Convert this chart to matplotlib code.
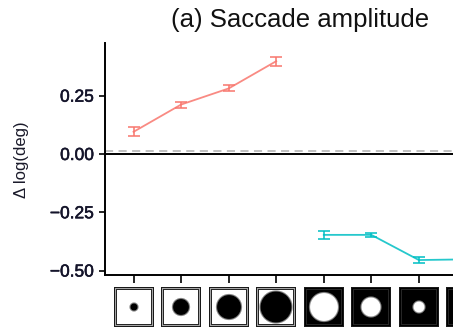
import numpy as np
import matplotlib
matplotlib.use("Agg")
import matplotlib.pyplot as plt
import matplotlib.patheffects as pe
from matplotlib.offsetbox import OffsetImage, AnnotationBbox

plt.rcParams['font.family'] = ['Liberation Sans', 'DejaVu Sans']

# ---- data ----
conditions = [1, 2, 3, 4, 5, 6, 7, 8]
red_x = [1, 2, 3, 4]
red_y = [0.095, 0.212, 0.281, 0.398]
red_err = [0.020, 0.013, 0.013, 0.020]
cyan_x = [5, 6, 7, 8]
cyan_y = [-0.347, -0.347, -0.455, -0.452]
cyan_err = [0.016, 0.010, 0.013, 0.012]
yticks = [-0.50, -0.25, 0.00, 0.25]
ytick_labels = ["\u22120.50", "\u22120.25", "0.00", "0.25"]
ref_dashed = 0.014
# icon settings: disc diameter (px in a 39-px box) and polarity
disc_diam = [8, 17, 25, 32, 29, 20, 12, 8]
disc_black = [True, True, True, True, False, False, False, False]

W, H = 453, 332
dpi = 100
fig = plt.figure(figsize=(W / dpi, H / dpi), dpi=dpi)
ax = fig.add_axes([105 / W, (H - 274.5) / H, 390 / W, (274.5 - 43) / H])

red = '#F8766D'
cyan = '#00BFC4'
ax.axhline(0, color='black', lw=1.4, zorder=1)
ax.axhline(ref_dashed, color='#BBBBBB', lw=1.3, ls=(0, (4.5, 3)), zorder=1)

ax.errorbar(red_x, red_y, yerr=red_err, color=red, lw=1.3, elinewidth=1.3,
            capsize=4, capthick=1.3, alpha=0.85, zorder=3)
ax.errorbar(cyan_x, cyan_y, yerr=cyan_err, color=cyan, lw=1.3, elinewidth=1.3,
            capsize=4, capthick=1.3, alpha=0.85, zorder=3)

ax.set_xlim(0.4, 8.6)
ax.set_ylim(-0.517, 0.476)
ax.set_yticks(yticks)
ax.set_yticklabels(ytick_labels)
ax.set_xticks(conditions)
ax.set_xticklabels([])
for s in ['top', 'right']:
    ax.spines[s].set_visible(False)
for s in ['left', 'bottom']:
    ax.spines[s].set_linewidth(1.4)
ax.tick_params(axis='y', length=4.5, width=1.2, pad=3.5, labelsize=12.5, labelcolor='#14142a')
ax.tick_params(axis='x', length=5.5, width=1.2)
for lab in ax.get_yticklabels():
    lab.set_path_effects([pe.withStroke(linewidth=0.4, foreground='#14142a')])

fig.text(22 / W, 1 - 160 / H, "\u0394 log(deg)", rotation=90, ha='center', va='center',
         fontsize=12, color='#1a1a2a')
fig.text(300 / W, 1 - 20 / H, "(a) Saccade amplitude", ha='center', va='center',
         fontsize=18.5, color='#111111')

# ---- icons under x ticks ----
N = 120
scale = N / 40.0
yy, xx = np.mgrid[0:N, 0:N]
c = (N - 1) / 2
dist = np.sqrt((xx - c) ** 2 + (yy - c) ** 2)
s3 = int(scale)
for xi, d, blk in zip(conditions, disc_diam, disc_black):
    r = d * scale / 2
    inside = np.clip((r - dist) / (2.2 * scale) + 0.5, 0, 1)  # soft edge
    img = 1 - inside if blk else inside.copy()
    # double frame: dark, light, dark
    for k, v in enumerate([0.1, 0.65, 0.15]):
        a, b = k * s3, (k + 1) * s3
        if not blk and k == 1:
            v = 0.0
        img[a:b, a:N - a] = v
        img[N - b:N - a, a:N - a] = v
        img[a:N - a, a:b] = v
        img[a:N - a, N - b:N - a] = v
    rgb = np.dstack([img, img, img])
    oi = OffsetImage(rgb, zoom=40 * 72 / (dpi * N))
    ab = AnnotationBbox(oi, (xi, 0), xycoords=('data', 'axes fraction'),
                        xybox=(0, -(306.7 - 274.5) * 72 / dpi), boxcoords='offset points',
                        frameon=False, annotation_clip=False)
    ax.add_artist(ab)

fig.savefig('out.png', dpi=dpi)
